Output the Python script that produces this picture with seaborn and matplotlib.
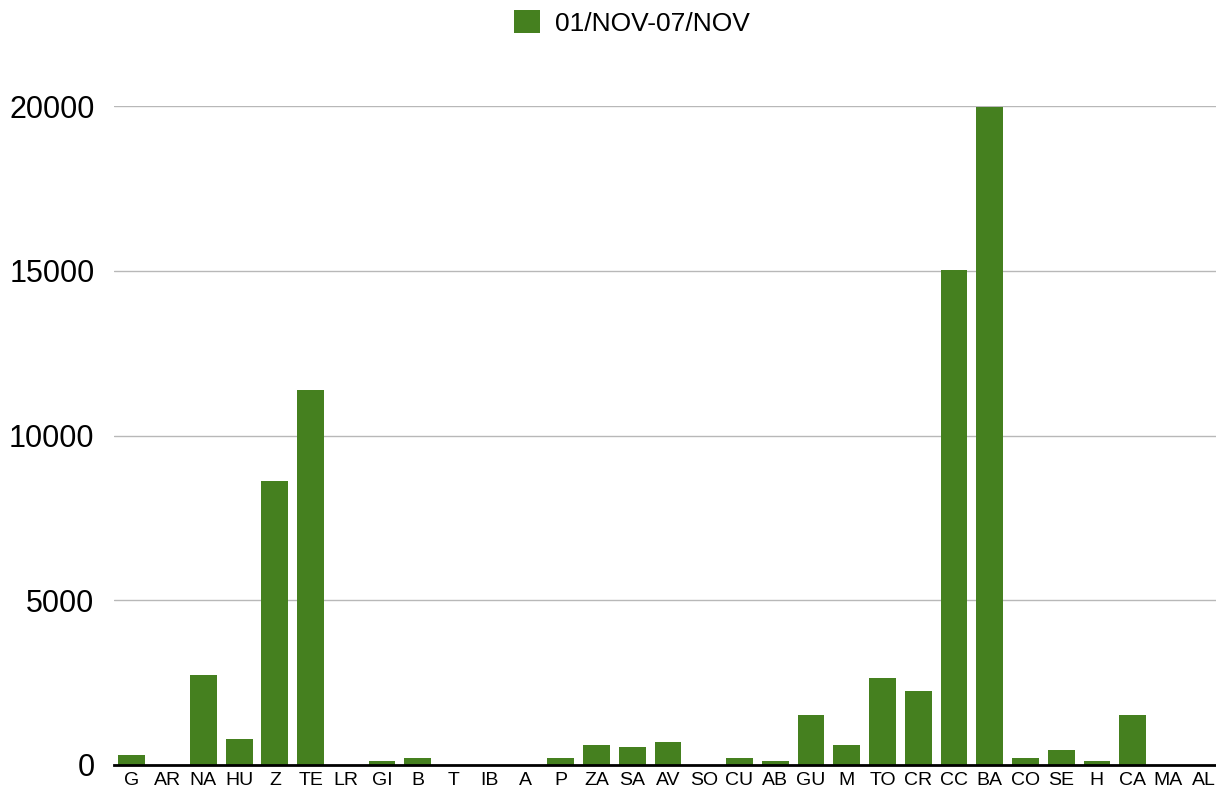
import matplotlib
matplotlib.use("Agg")
import matplotlib.pyplot as plt
import seaborn as sns
import pandas as pd

categories = ["G", "AR", "NA", "HU", "Z", "TE", "LR", "GI", "B", "T", "IB", "A", "P", "ZA", "SA",
              "AV", "SO", "CU", "AB", "GU", "M", "TO", "CR", "CC", "BA", "CO", "SE", "H", "CA", "MA", "AL"]
values = [290, 0, 2730, 790, 8620, 11380, 0, 120, 210, 0, 0, 0, 210, 610, 550,
          700, 0, 210, 120, 1520, 610, 2640, 2250, 15020, 19970, 210, 450, 120, 1520, 0, 0]
series_name = "01/NOV-07/NOV"
yticks = [0, 5000, 10000, 15000, 20000]

df = pd.DataFrame({"cat": categories, "val": values})

sns.set_theme(style="white")
plt.rcParams["font.family"] = ["Liberation Sans", "DejaVu Sans"]

fig = plt.figure(figsize=(12.16, 7.92), dpi=100)
ax = fig.add_axes([114 / 1216, 1 - 765 / 792, (1222 - 114) / 1216, (765 - 106) / 792])

sns.barplot(data=df, x="cat", y="val", color="#45801f", saturation=1, width=0.75,
            linewidth=0, edgecolor="none", label=series_name, ax=ax)

ax.set_ylim(0, 20000)
ax.set_xlim(-0.5, len(categories) - 0.5)
ax.set_yticks(yticks)
ax.set_yticklabels([str(t) for t in yticks], fontsize=22)
ax.tick_params(axis="y", length=0, pad=14)
ax.tick_params(axis="x", length=0, pad=5, labelsize=14)
for lbl in ax.get_xticklabels() + ax.get_yticklabels():
    lbl.set_color("black")
ax.set_xlabel("")
ax.set_ylabel("")
ax.yaxis.grid(True, color="#b8b8b8", linewidth=1.0)
ax.set_axisbelow(True)
for s in ["top", "right", "left"]:
    ax.spines[s].set_visible(False)
ax.spines["bottom"].set_color("black")
ax.spines["bottom"].set_linewidth(2)
ax.spines["bottom"].set_zorder(5)

if ax.get_legend() is not None:
    ax.get_legend().remove()
handles, labels = ax.get_legend_handles_labels()
fig.legend(handles, labels, loc="center", bbox_to_anchor=(0.52, 1 - 23 / 792), frameon=False,
           fontsize=19, handlelength=0.95, handleheight=0.95, handletextpad=0.6,
           labelcolor="black")

fig.savefig("out.png", dpi=100)
